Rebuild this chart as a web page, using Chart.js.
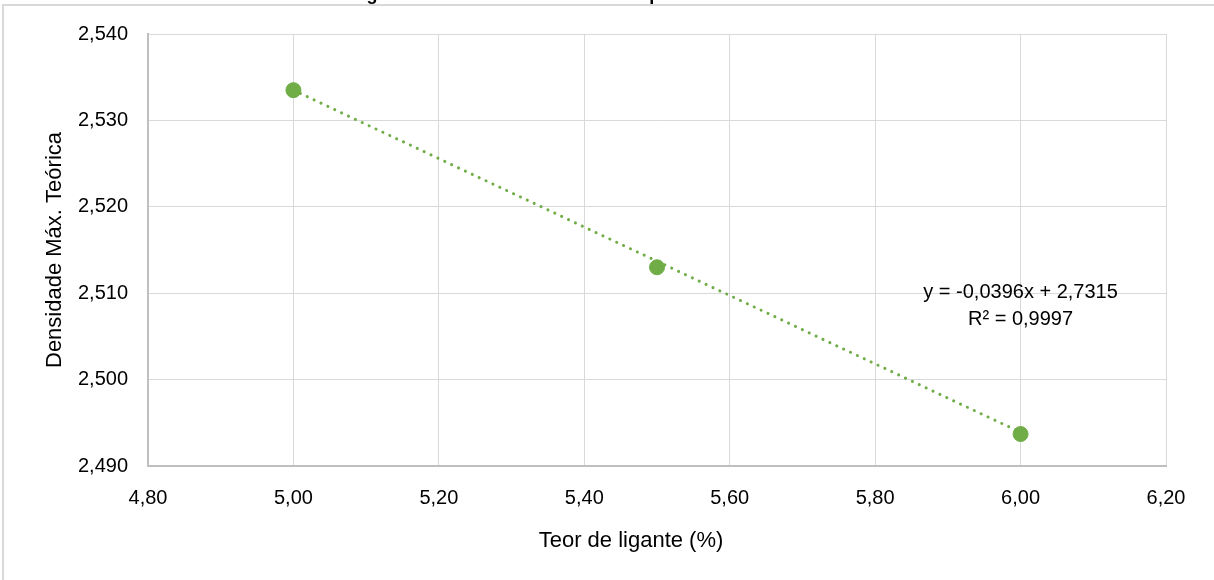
<!DOCTYPE html>
<html>
<head>
<meta charset="utf-8">
<script src="https://cdn.jsdelivr.net/npm/chart.js@4.4.1/dist/chart.umd.min.js"></script>
<style>
  html, body { margin: 0; padding: 0; background: #ffffff; }
  #wrap { width: 1214px; height: 580px; position: relative; }
</style>
</head>
<body>
<div id="wrap"><canvas id="chart" width="1214" height="580"></canvas></div>
<script>
// Binder content (%) and theoretical maximum density
const teorLigante = [5.00, 5.50, 6.00];
const densidadeMax = [2.5335, 2.5130, 2.4937];

// Linear trend as stated in the equation label
const trendSlope = -0.0396;
const trendIntercept = 2.7315;
const trendR2 = 0.9997;
const trendRange = [5.00, 6.00];

// Axis ranges and tick steps
const xRange = [4.80, 6.20];
const xStep = 0.20;
const yRange = [2.490, 2.540];
const yStep = 0.010;

const titleText = 'Figura 3 – Densidade Máx. Teórica para os teores de CAP';
const xTitle = 'Teor de ligante (%)';
const yTitle = 'Densidade Máx. Teórica';

const FONT = '"Liberation Sans", Arial, sans-serif';
const GREEN = '#70AD47';

const fmt = (v, d) => v.toFixed(d).replace('.', ',');

const pontos = teorLigante.map((x, i) => ({ x: x, y: densidadeMax[i] }));
const tendencia = trendRange.map(x => ({ x: x, y: trendSlope * x + trendIntercept }));

const eqLines = [
  'y = ' + fmt(trendSlope, 4) + 'x + ' + fmt(trendIntercept, 4),
  'R² = ' + fmt(trendR2, 4)
];

// Outer frame, clipped caption, x-axis title and trend equation
const decor = {
  id: 'decor',
  beforeDraw(chart) {
    const ctx = chart.ctx;
    ctx.save();
    ctx.fillStyle = '#ffffff';
    ctx.fillRect(0, 0, chart.width, chart.height);
    ctx.strokeStyle = '#d9d9d9';
    ctx.lineWidth = 2;
    ctx.beginPath();
    ctx.moveTo(3, chart.height);
    ctx.lineTo(3, 5);
    ctx.lineTo(chart.width, 5);
    ctx.stroke();
    ctx.fillStyle = '#000000';
    ctx.font = 'bold 18px ' + FONT;
    ctx.textAlign = 'center';
    ctx.textBaseline = 'alphabetic';
    ctx.fillText(titleText, 596, 0);
    ctx.font = '22px ' + FONT;
    ctx.textBaseline = 'middle';
    ctx.fillText(xTitle, 631, 541);
    ctx.restore();
  },
  afterDatasetsDraw(chart) {
    const ctx = chart.ctx;
    const xs = chart.scales.x, ys = chart.scales.y;
    const cx = xs.getPixelForValue(6.00);
    const cy = ys.getPixelForValue(2.5085);
    ctx.save();
    ctx.fillStyle = '#000000';
    ctx.font = '20px ' + FONT;
    ctx.textAlign = 'center';
    ctx.textBaseline = 'middle';
    ctx.fillText(eqLines[0], cx, cy - 14);
    ctx.fillText(eqLines[1], cx, cy + 13);
    ctx.restore();
  }
};

new Chart(document.getElementById('chart'), {
  type: 'scatter',
  data: {
    datasets: [
      {
        label: 'Tendência',
        data: tendencia,
        showLine: true,
        borderColor: GREEN,
        borderWidth: 3,
        borderDash: [0.1, 7.5],
        borderCapStyle: 'round',
        pointRadius: 0,
        pointHoverRadius: 0,
        fill: false,
        order: 2
      },
      {
        label: 'DMT',
        data: pontos,
        showLine: false,
        backgroundColor: GREEN,
        borderColor: GREEN,
        pointRadius: 7.5,
        pointHoverRadius: 7.5,
        order: 1
      }
    ]
  },
  options: {
    responsive: false,
    animation: false,
    events: [],
    layout: { padding: { top: 34, right: 48, left: 0, bottom: 0 } },
    plugins: {
      legend: { display: false },
      tooltip: { enabled: false }
    },
    scales: {
      x: {
        type: 'linear',
        min: xRange[0],
        max: xRange[1],
        afterFit(scale) { scale.height = 114; },
        afterBuildTicks(scale) {
          const t = [];
          for (let v = xRange[0]; v <= xRange[1] + 1e-9; v += xStep) t.push({ value: +v.toFixed(2) });
          scale.ticks = t;
        },
        ticks: {
          color: '#000000',
          font: { family: FONT, size: 20 },
          padding: 20,
          maxRotation: 0,
          autoSkip: false,
          callback: v => fmt(v, 2)
        },
        grid: { color: '#d9d9d9', lineWidth: 1, drawTicks: false },
        border: { color: '#bfbfbf', width: 2 },
        title: { display: false }
      },
      y: {
        type: 'linear',
        min: yRange[0],
        max: yRange[1],
        afterFit(scale) { scale.width = 148; },
        afterBuildTicks(scale) {
          const t = [];
          for (let v = yRange[0]; v <= yRange[1] + 1e-9; v += yStep) t.push({ value: +v.toFixed(3) });
          scale.ticks = t;
        },
        ticks: {
          color: '#000000',
          font: { family: FONT, size: 20 },
          padding: 20,
          autoSkip: false,
          callback: v => fmt(v, 3)
        },
        grid: { color: '#d9d9d9', lineWidth: 1, drawTicks: false },
        border: { color: '#bfbfbf', width: 2 },
        title: {
          display: true,
          text: yTitle,
          color: '#000000',
          font: { family: FONT, size: 22 },
          padding: { top: 42, bottom: 42 }
        }
      }
    }
  },
  plugins: [decor]
});
</script>
</body>
</html>
